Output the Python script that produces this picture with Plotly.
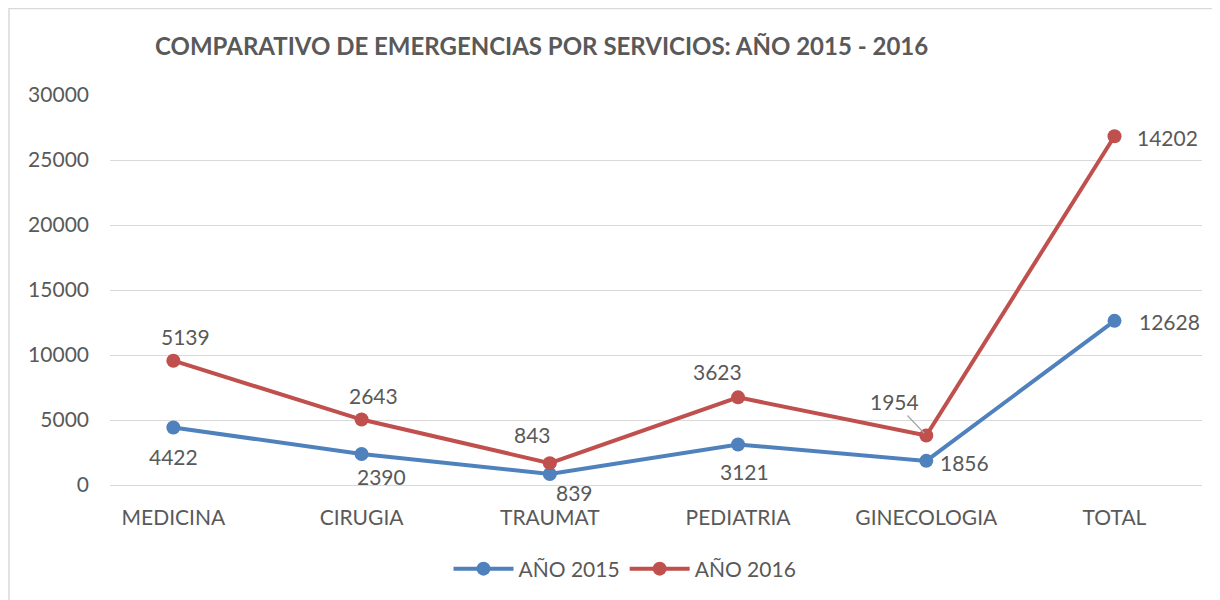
import plotly.graph_objects as go

categories = ["MEDICINA", "CIRUGIA", "TRAUMAT", "PEDIATRIA", "GINECOLOGIA", "TOTAL"]
y2015 = [4422, 2390, 839, 3121, 1856, 12628]
y2016 = [5139, 2643, 843, 3623, 1954, 14202]
y_ticks = [0, 5000, 10000, 15000, 20000, 25000, 30000]

# stacked line: 2016 drawn on top of 2015
stack2016 = [a + b for a, b in zip(y2015, y2016)]

blue = "#4F81BD"
red = "#C0504D"
txt = "#595959"
font = "Lato, 'Open Sans', sans-serif"
fs = 21

fig = go.Figure()
fig.add_trace(go.Scatter(x=categories, y=y2015, mode="lines+markers", name="AÑO 2015",
                         line=dict(color=blue, width=4), marker=dict(size=14, color=blue)))
fig.add_trace(go.Scatter(x=categories, y=stack2016, mode="lines+markers", name="AÑO 2016",
                         line=dict(color=red, width=4), marker=dict(size=14, color=red)))

# label offsets (pixels)
off2015 = [(0, -29), (20, -23), (25, -18), (6, -27), (38, -2), (55, -1)]
off2016 = [(12, 24), (12, 24), (-17, 29), (-21, 26), (None, None), (53, -1)]

for c, v, yy, (dx, dy) in zip(categories, y2015, y2015, off2015):
    fig.add_annotation(x=c, y=yy, text=str(v), showarrow=False, xshift=dx, yshift=dy,
                       font=dict(size=fs, color=txt, family=font))
for c, v, yy, (dx, dy) in zip(categories, y2016, stack2016, off2016):
    if dx is None:
        fig.add_annotation(x=c, y=yy, text=str(v), showarrow=True, arrowhead=0,
                           arrowwidth=1.2, arrowcolor="#A6A6A6", ax=-32, ay=-34, standoff=3,
                           font=dict(size=fs, color=txt, family=font))
    else:
        fig.add_annotation(x=c, y=yy, text=str(v), showarrow=False, xshift=dx, yshift=dy,
                           font=dict(size=fs, color=txt, family=font))

# page body has an 8px margin, so shift everything up/left by 8px
L, T = 102, 87
W, H = 1092, 390
fig.update_layout(
    width=1220, height=600,
    paper_bgcolor="white", plot_bgcolor="white",
    margin=dict(l=L, r=1220 - L - W, t=T, b=600 - T - H, autoexpand=False),
    title=dict(text="<b>COMPARATIVO DE EMERGENCIAS POR SERVICIOS: AÑO 2015 - 2016</b>",
               x=147 / 1220, xanchor="left", y=1 - 39 / 600, yanchor="middle",
               font=dict(size=24, color=txt, family=font)),
    font=dict(family=font, color=txt, size=fs),
    legend=dict(orientation="h", x=(617 - L) / W, xanchor="center", yref="container",
                y=1 - 561 / 600, yanchor="middle",
                font=dict(size=fs, color=txt, family=font), itemwidth=60),
    showlegend=True,
    shapes=[dict(type="rect", xref="paper", yref="paper",
                 x0=(1 - L) / W, x1=(1230 - L) / W,
                 y0=(T + H - 605) / H, y1=(T + H - 0.5) / H,
                 line=dict(color="#D9D9D9", width=1.5))],
)
fig.update_xaxes(showgrid=False, showline=False, ticks="", automargin=False,
                 ticklabelstandoff=18, tickfont=dict(size=fs, color=txt))
fig.update_yaxes(range=[0, 30000], tickvals=y_ticks, ticktext=[str(t) for t in y_ticks],
                 showgrid=True, gridcolor="#D9D9D9", automargin=False,
                 gridwidth=1, zeroline=True, zerolinecolor="#D9D9D9", zerolinewidth=1,
                 ticks="", ticklabelstandoff=20, tickfont=dict(size=fs, color=txt))

fig.write_html("out.html")
